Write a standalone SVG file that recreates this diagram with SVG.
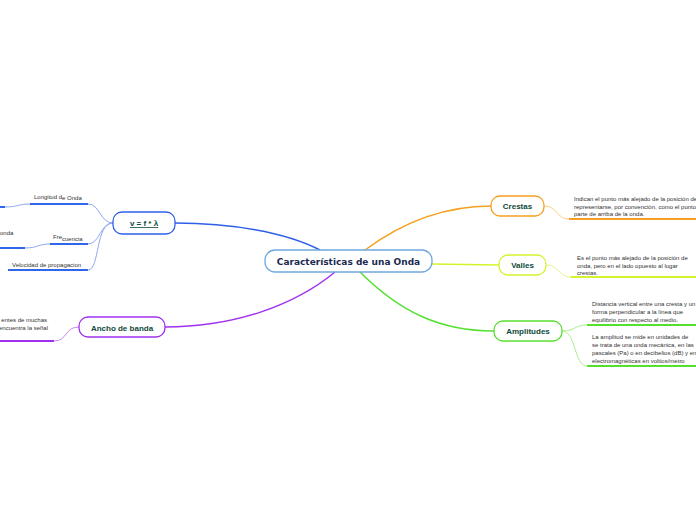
<svg xmlns="http://www.w3.org/2000/svg" width="696" height="520" viewBox="0 0 696 520">
<style>
.node{fill:#fff;stroke-width:1.3}
.lbl{font-family:"Liberation Sans",Arial,sans-serif;font-weight:bold;font-size:8px;fill:#0f4a3a;text-anchor:middle}
.main{font-family:"DejaVu Sans","Liberation Sans",sans-serif;font-weight:bold;font-size:9px;fill:#1b2a50;text-anchor:middle}
.t{font-family:"Liberation Sans",Arial,sans-serif;font-size:6px;fill:#333}
.c{fill:none}
</style>
<rect width="696" height="520" fill="#fff"/>
<g id="connectors" class="c">
<path d="M320 250 C285 232,230 223,175 223" stroke="#2f5fe8" stroke-width="1.5"/>
<path d="M335 272 C295 305,235 327,165 327" stroke="#a030f0" stroke-width="1.5"/>
<path d="M365 250 C400 224,440 206,491 206" stroke="#f5a020" stroke-width="1.5"/>
<path d="M432 264 L499 265" stroke="#d6f22c" stroke-width="1.5"/>
<path d="M360 272 C400 312,440 331,494 331" stroke="#55e030" stroke-width="1.5"/>
<g stroke="#8ea8f5" stroke-width="1">
<path d="M113 223 C100 223,100 204,88 204"/>
<path d="M113 223 C100 223,100 244,88 244"/>
<path d="M113 223 C95 223,100 270,88 270"/>
<path d="M30 204 C18 204,18 207,5 207"/>
<path d="M50 244 C38 244,38 248,25 248"/>
</g>
<path d="M79 327 C64 327,68 341,54 341" stroke="#c888f8" stroke-width="1"/>
<path d="M544 206 C558 206,556 219,569 219" stroke="#fccf88" stroke-width="1"/>
<path d="M546 265 C560 265,558 277,571 277" stroke="#e2f688" stroke-width="1"/>
<path d="M562 331 C576 331,574 325,587 325" stroke="#a8f090" stroke-width="1"/>
<path d="M562 331 C576 331,574 366,587 366" stroke="#a8f090" stroke-width="1"/>
</g>
<g id="center">
<rect x="265" y="250" width="167" height="22" rx="10" class="node" stroke="#6fa8dc" stroke-width="1.5"/>
<text x="348.5" y="264.5" class="main">Características de una Onda</text>
</g>
<g id="formula">
<rect x="113" y="212" width="62" height="22" rx="9" class="node" stroke="#2f5fe8"/>
<text x="144" y="226" class="lbl" text-decoration="underline">v = f * λ</text>
</g>
<g id="longitud">
<text x="34" y="199" class="t">Longitud d<tspan dy="1">e Onda</tspan></text>
<path d="M30 204 H88" stroke="#2f66ea" stroke-width="2"/>
<path d="M0 207 H5" stroke="#2f66ea" stroke-width="2"/>
</g>
<g id="frecuencia">
<text x="53" y="239" class="t">Fre<tspan dy="1.5">cuencia</tspan></text>
<path d="M50 244 H88" stroke="#2f66ea" stroke-width="2"/>
<text x="0" y="235" class="t">onda</text>
<path d="M0 248 H25" stroke="#2f66ea" stroke-width="2"/>
</g>
<g id="velocidad">
<text x="12" y="267" class="t">Velocidad de propagacion</text>
<path d="M8 270 H88" stroke="#2f66ea" stroke-width="2"/>
</g>
<g id="ancho">
<rect x="79" y="317" width="86" height="20" rx="9" class="node" stroke="#a030f0"/>
<text x="122" y="330.5" class="lbl">Ancho de banda</text>
</g>
<g id="ancho-texto">
<text x="47" y="322" class="t" text-anchor="end">entes de muchas</text>
<text x="48" y="330" class="t" text-anchor="end">encuentra la señal</text>
<path d="M0 341 H54" stroke="#a030f0" stroke-width="2"/>
</g>
<g id="crestas">
<rect x="491" y="196" width="53" height="20" rx="9" class="node" stroke="#f5a020"/>
<text x="517.5" y="209" class="lbl">Crestas</text>
</g>
<g id="crestas-texto">
<text x="574" y="201" class="t">Indican el punto más alejado de la posición de</text>
<text x="574" y="209" class="t">representarse, por convención, como el punto</text>
<text x="574" y="216" class="t">parte de arriba de la onda.</text>
<path d="M569 219 H696" stroke="#f5a020" stroke-width="2"/>
</g>
<g id="valles">
<rect x="499" y="255" width="47" height="20" rx="9" class="node" stroke="#d6f22c"/>
<text x="522.5" y="268" class="lbl">Valles</text>
</g>
<g id="valles-texto">
<text x="577" y="260" class="t">Es el punto más alejado de la posición de</text>
<text x="577" y="268" class="t">onda, pero en el lado opuesto al lugar</text>
<text x="577" y="275" class="t">crestas.</text>
<path d="M571 277 H696" stroke="#d6f22c" stroke-width="2"/>
</g>
<g id="amplitudes">
<rect x="494" y="321" width="68" height="20" rx="9" class="node" stroke="#55e030"/>
<text x="528" y="334" class="lbl">Amplitudes</text>
</g>
<g id="amplitud-def">
<text x="592" y="306" class="t">Distancia vertical entre una cresta y un</text>
<text x="592" y="314" class="t">forma perpendicular a la línea que</text>
<text x="592" y="322" class="t">equilibrio con respecto al medio.</text>
<path d="M587 325 H696" stroke="#55e030" stroke-width="2"/>
</g>
<g id="amplitud-medida">
<text x="592" y="339" class="t">La amplitud se mide en unidades de</text>
<text x="592" y="347" class="t">se trata de una onda mecánica, en las</text>
<text x="592" y="355" class="t">pascales (Pa) o en decibelios (dB) y en</text>
<text x="592" y="363" class="t">electromagnéticas en voltios/metro</text>
<path d="M587 366 H696" stroke="#55e030" stroke-width="2"/>
</g>
</svg>
